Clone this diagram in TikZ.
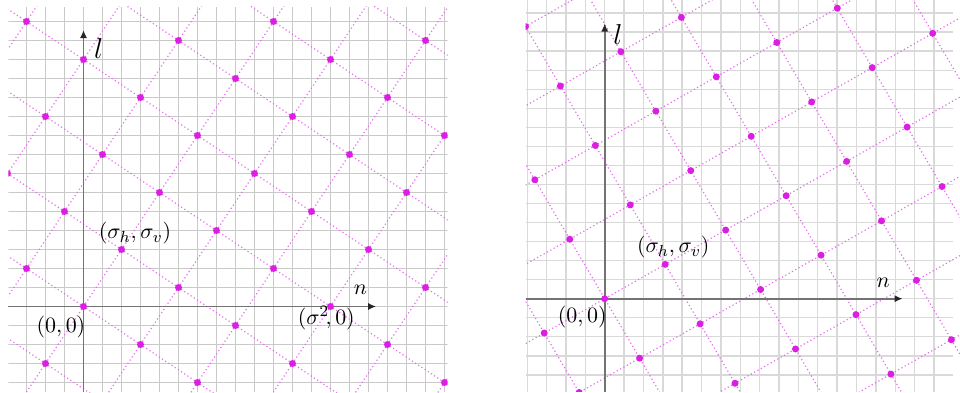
\documentclass[tikz,border=0pt]{standalone}
\usetikzlibrary{arrows.meta}
\definecolor{dotc}{RGB}{218,30,226}
\definecolor{latc}{RGB}{228,110,236}
\tikzset{
  gridl/.style={draw=black!21, line width=0.5pt},
  gridr/.style={draw=black!15, line width=0.7pt},
  latl/.style={draw=latc, line width=0.6pt, dash pattern=on 0.6pt off 1.3pt},
  axisl/.style={draw=black!55, line width=0.8pt, -{Latex[length=4pt,width=3.6pt,color=black!85]}},
  latpt/.style={fill=dotc},
  lab/.style={inner sep=0pt, anchor=center, font=\fontsize{10.8}{13}\selectfont},
  biglab/.style={inner sep=0pt, anchor=center, font=\Large}
}
\begin{document}
\begin{tikzpicture}
\useasboundingbox (0,0) rectangle (480pt,196pt);
% ---------------- left panel ----------------
\begin{scope}[shift={(41.75pt,42.75pt)}, x=9.5pt, y=9.5pt]
  \begin{scope}
    \clip (-3.95,-4.5) rectangle (19.17,15.78);
    \foreach \i in {-3,...,19} \draw[gridl] (\i,-4.5) -- (\i,15.78);
    \foreach \j in {-4,...,15} \draw[gridl] (-3.95,\j) -- (19.17,\j);
    \foreach \b in {-6,...,4}
      \draw[latl] ({-3*\b-2*3},{2*\b-3*3}) -- ({-3*\b+2*8},{2*\b+3*8});
    \foreach \a in {-2,...,7}
      \draw[latl] ({2*\a+3*6},{3*\a-2*6}) -- ({2*\a-3*5},{3*\a+2*5});
  \end{scope}
  \coordinate (lo) at (0,0);
  \coordinate (ln0) at (-3.95,0);
  \coordinate (ln1) at (15.4,0);
  \coordinate (ll0) at (0,-4.5);
  \coordinate (ll1) at (0,14.55);
  \draw[axisl] (ln0) -- (ln1);
  \draw[axisl] (ll0) -- (ll1);
  \begin{scope}
    \clip (-3.95,-4.5) rectangle (19.17,15.78);
    \foreach \a in {-2,...,7}
      \foreach \b in {-6,...,4}
        \fill[latpt] ({2*\a-3*\b},{3*\a+2*\b}) circle (1.75pt);
  \end{scope}
  \node[biglab] (Ll) at (0.8,13.57) {$l$};
  \node[lab] (Ln) at (14.58,0.87) {$n$};
  \node[lab] (Lo) at (-1.19,-1.06) {$(0,0)$};
  \node[lab] (Ls) at (2.71,3.85) {$(\sigma_h,\sigma_v)$};
  \node[lab] (Lq) at (12.78,-0.6) {$(\sigma^2\!,0)$};
\end{scope}
% ---------------- right panel ----------------
\begin{scope}[shift={(302.35pt,46.65pt)}, x=9.685pt, y=9.52pt]
  \begin{scope}
    \clip (-4.08,-4.9) rectangle (17.98,15.8);
    \foreach \i in {-4,...,17} \draw[gridr] (\i,-4.9) -- (\i,15.8);
    \foreach \j in {-4,...,15} \draw[gridr] (-4.08,\j) -- (17.98,\j);
  \end{scope}
  \begin{scope}
    \clip (-4.08,-4.9) rectangle (18.4,15.8);
    \foreach \b in {-4,...,5}
      \draw[latl] ({-1.8028*\b-3.1225*3},{3.1225*\b-1.8028*3}) -- ({-1.8028*\b+3.1225*8},{3.1225*\b+1.8028*8});
    \foreach \a in {-2,...,7}
      \draw[latl] ({3.1225*\a+1.8028*5},{1.8028*\a-3.1225*5}) -- ({3.1225*\a-1.8028*6},{1.8028*\a+3.1225*6});
  \end{scope}
  \coordinate (ro) at (0,0);
  \coordinate (rn0) at (-4.08,0);
  \coordinate (rn1) at (15.38,0);
  \coordinate (rl0) at (0,-4.9);
  \coordinate (rl1) at (0,14.45);
  \draw[axisl] (rn0) -- (rn1);
  \draw[axisl] (rl0) -- (rl1);
  \begin{scope}
    \clip (-4.08,-4.9) rectangle (18.4,15.8);
    \foreach \a in {-2,...,7}
      \foreach \b in {-4,...,5}
        \fill[latpt] ({3.1225*\a-1.8028*\b},{1.8028*\a+3.1225*\b}) circle (1.75pt);
  \end{scope}
  \node[biglab] (Rl) at (0.68,13.85) {$l$};
  \node[lab] (Rn) at (14.38,0.86) {$n$};
  \node[lab] (Ro) at (-1.16,-0.98) {$(0,0)$};
  \node[lab] (Rs) at (3.54,2.69) {$(\sigma_h,\sigma_v)$};
\end{scope}
\end{tikzpicture}
\end{document}
